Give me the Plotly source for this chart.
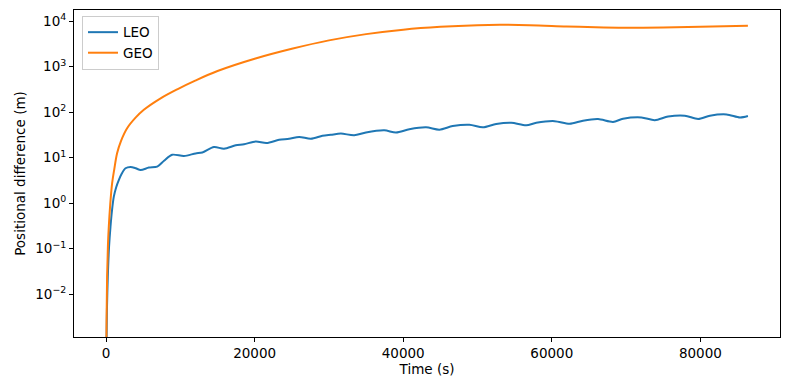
import plotly.graph_objects as go

# ---- data ----
leo_t = [0, 60, 120, 230, 400, 590, 800, 1040, 1350, 1710, 2100, 2610, 3290, 4000, 4640,
         5760, 6880, 7800, 8900, 10480, 12050, 12950, 14520, 15870, 17450, 18570,
         20150, 21600, 23290, 24640, 25990, 27560, 29130, 30260, 31610, 33400, 34980,
         37450, 39030, 40820, 43070, 44870, 46660, 48910, 50710, 52510, 54540, 56560,
         57910, 60380, 62400, 64200, 66220, 68240, 69590, 72070, 73860, 75660, 77910,
         79700, 81280, 83530, 85330, 86400]
leo_v = [1e-4, 0.0008, 0.005, 0.024, 0.11, 0.3, 0.7, 1.38, 2.2, 3.2, 4.4, 5.8, 6.2, 5.8, 5.3,
         6.0, 6.3, 8.5, 11.5, 10.8, 12.3, 12.9, 17.0, 15.6, 18.5, 19.5,
         22.5, 20.8, 24.5, 25.8, 28.3, 25.8, 30.0, 31.6, 33.5, 30.9, 35.6,
         39.5, 35.5, 41.7, 46.0, 41.0, 49.0, 52.5, 46.0, 54.5, 58.0, 51.0,
         58.0, 63.0, 55.0, 64.5, 70.0, 60.6, 71.0, 76.0, 66.0, 79.5, 83.0,
         70.2, 83.0, 88.5, 76.0, 82.0]

geo_t = [0, 60, 135, 250, 364, 550, 810, 1100, 1480, 2000, 2830, 4000, 5080, 7340, 9580,
         12000, 15000, 20000, 25000, 30000, 35000, 40000, 45000, 50000, 53000, 57000,
         62000, 67000, 71000, 75000, 80000, 86400]
geo_v = [1e-4, 0.0024, 0.024, 0.12, 0.3, 0.9, 2.7, 5.5, 12.4, 23, 44, 76, 112, 200, 316,
         490, 795, 1480, 2450, 3750, 5150, 6450, 7450, 8100, 8250, 8100,
         7600, 7200, 7100, 7200, 7500, 7900]

x_ticks = [0, 20000, 40000, 60000, 80000]
y_ticks = [1e-2, 1e-1, 1e0, 1e1, 1e2, 1e3, 1e4]
y_tick_text = ["10<sup>\u22122</sup>", "10<sup>\u22121</sup>", "10<sup>0</sup>",
               "10<sup>1</sup>", "10<sup>2</sup>", "10<sup>3</sup>", "10<sup>4</sup>"]

FONT = "DejaVu Sans"
FS = 13.5

fig = go.Figure()
fig.add_trace(go.Scatter(x=leo_t, y=leo_v, mode="lines", name="LEO",
                         line=dict(color="#1f77b4", width=2, shape="spline", smoothing=0.8)))
fig.add_trace(go.Scatter(x=geo_t, y=geo_v, mode="lines", name="GEO",
                         line=dict(color="#ff7f0e", width=2, shape="spline", smoothing=1.0)))

axis_common = dict(showline=True, mirror=True, linecolor="black", linewidth=1,
                   ticks="outside", ticklen=4, tickwidth=1, tickcolor="black",
                   showgrid=False, zeroline=False, automargin=False,
                   tickfont=dict(family=FONT, size=FS, color="black"))

fig.update_xaxes(range=[-4320, 90720], tickvals=x_ticks,
                 ticktext=[str(v) for v in x_ticks],
                 title=dict(text="Time (s)", font=dict(family=FONT, size=FS, color="black"),
                            standoff=2),
                 **axis_common)
fig.update_yaxes(type="log", range=[-2.945, 4.242], tickvals=y_ticks, ticktext=y_tick_text,
                 title=dict(text="Positional difference (m)",
                            font=dict(family=FONT, size=FS, color="black"), standoff=6),
                 **axis_common)

fig.update_layout(
    width=790, height=390,
    margin=dict(l=74, r=10, t=10, b=53, autoexpand=False),
    paper_bgcolor="white", plot_bgcolor="white",
    font=dict(family=FONT, size=FS, color="black"),
    legend=dict(x=0.0113, y=0.982, xanchor="left", yanchor="top",
                bgcolor="rgba(255,255,255,0.8)", bordercolor="#cccccc", borderwidth=1,
                font=dict(family=FONT, size=FS, color="black"),
                itemwidth=30, tracegroupgap=0),
    showlegend=True,
)

fig.write_html("out.html", config={"displayModeBar": False},
               post_script="document.body.style.margin='0';document.body.style.overflow='hidden';")
